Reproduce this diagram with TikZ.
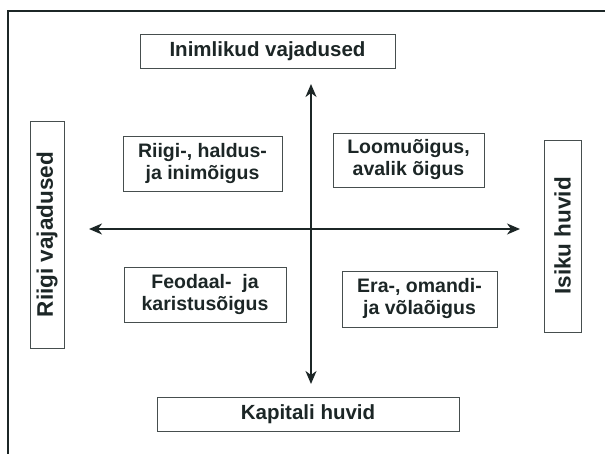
\documentclass[tikz,border=0pt]{standalone}
\usepackage{fontspec}
\setmainfont{Liberation Sans}
\usetikzlibrary{arrows.meta}
\definecolor{ink}{RGB}{28,38,38}
\definecolor{rim}{RGB}{70,78,78}
\begin{document}
\begin{tikzpicture}[x=1pt,y=-1pt,
  box/.style={draw=rim,line width=0.9pt,inner sep=0pt,align=center,
    font=\bfseries\fontsize{20.5}{22}\selectfont,text=ink},
  sidebox/.style={box,rotate=90,font=\bfseries\fontsize{22.5}{24}\selectfont},
  quad/.style={draw=rim,line width=0.9pt,inner sep=0pt,align=center,
    font=\bfseries\fontsize{19.5}{22}\selectfont,text=ink},
  axis/.style={draw=ink,line width=1.5pt,
    -{Stealth[length=13pt,width=11pt,inset=4pt]}}]
\useasboundingbox (0,0) rectangle (605,454);
% outer frame (open to the right and bottom)
\draw[ink,line width=1.6pt] (8,454) -- (8,11) -- (605,11);
% the four poles
\node[box,minimum width=255,minimum height=34] (top) at (267.5,51) {Inimlikud vajadused};
\node[box,minimum width=302,minimum height=34] (bottom) at (308,414) {Kapitali huvid};
\node[sidebox,minimum width=227,minimum height=34] (left) at (47,234.5) {Riigi vajadused};
\node[sidebox,minimum width=192,minimum height=37] (right) at (562.5,236) {Isiku huvid};
% the four quadrants
\node[quad,minimum width=159,minimum height=55] (rh) at (202.5,163.5) {Riigi-, haldus-\\ja inimõigus};
\node[quad,minimum width=151,minimum height=54] (la) at (408.5,160) {Loomuõigus,\\avalik õigus};
\node[quad,minimum width=162,minimum height=55] (fk) at (205,294.5) {Feodaal-\ \ ja\\karistusõigus};
\node[quad,minimum width=155,minimum height=56] (eo) at (419.5,299) {Era-, omandi-\\ja võlaõigus};
% axes
\coordinate (c) at (311,229);
\coordinate (up) at (311,84);
\coordinate (down) at (311,384);
\coordinate (west) at (89,229);
\coordinate (east) at (520,229);
\draw[axis] (c) -- (up);
\draw[axis] (c) -- (down);
\draw[axis] (c) -- (west);
\draw[axis] (c) -- (east);
\end{tikzpicture}
\end{document}
